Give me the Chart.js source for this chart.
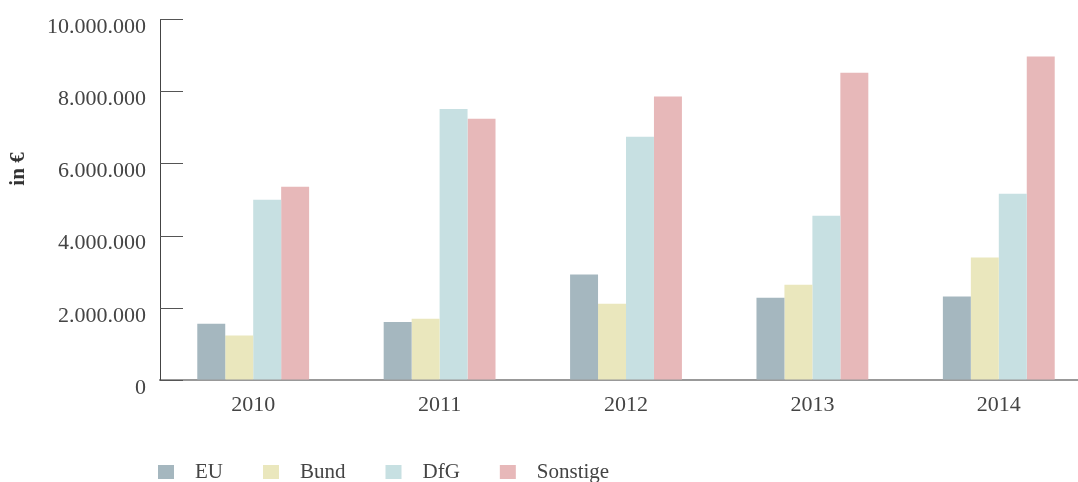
<!DOCTYPE html>
<html>
<head>
<meta charset="utf-8">
<script src="https://cdn.jsdelivr.net/npm/chart.js@4.4.1/dist/chart.umd.min.js"></script>
<style>
    html, body { margin: 0; padding: 0; background: #fff; overflow: hidden; }
    #wrap { position: relative; width: 1092px; height: 482px; }
</style>
</head>
<body>
<div id="wrap"><canvas id="chart"></canvas></div>
<script>
// Data
const years = ['2010', '2011', '2012', '2013', '2014'];
const eu = [1560000, 1610000, 2920000, 2280000, 2310000];
const bund = [1230000, 1700000, 2110000, 2640000, 3390000];
const dfg = [4990000, 7510000, 6740000, 4550000, 5160000];
const sonstige = [5350000, 7240000, 7850000, 8510000, 8960000];
const yTicks = [0, 2000000, 4000000, 6000000, 8000000, 10000000];

// Colors
const colors = {
    eu: '#a5b7bf',
    bund: '#eae7bd',
    dfg: '#c7e0e2',
    sonstige: '#e7b8b9',
    text: '#444',
};

const serif = '"Liberation Serif", "Times New Roman", serif';

// Thousands separator with dots (German style)
const formatNumber = (v) => String(v).replace(/\B(?=(\d{3})+(?!\d))/g, '.');

// Tick stubs inside the plot, rotated axis title and the legend row
const axisExtras = {
    id: 'axisExtras',
    afterDraw(chart) {
        const { ctx, chartArea, scales: { y } } = chart;
        ctx.save();
        ctx.strokeStyle = '#555';
        ctx.lineWidth = 1;
        y.ticks.forEach((t) => {
            const py = Math.round(y.getPixelForValue(t.value)) + 0.5;
            ctx.beginPath();
            ctx.moveTo(chartArea.left, py);
            ctx.lineTo(chartArea.left + 23, py);
            ctx.stroke();
        });
        ctx.restore();

        // y axis title
        ctx.save();
        ctx.translate(19, 169);
        ctx.rotate(-Math.PI / 2);
        ctx.font = 'bold 21px ' + serif;
        ctx.fillStyle = '#333';
        ctx.textAlign = 'center';
        ctx.textBaseline = 'middle';
        ctx.fillText('in €', 0, 0);
        ctx.restore();

        // legend
        ctx.save();
        ctx.font = '21px ' + serif;
        ctx.textBaseline = 'middle';
        ctx.textAlign = 'left';
        let x = 158;
        chart.data.datasets.forEach((ds) => {
            ctx.fillStyle = ds.backgroundColor;
            ctx.fillRect(x, 465, 16, 14);
            ctx.fillStyle = colors.text;
            ctx.fillText(ds.label, x + 37, 472);
            x += 37 + ctx.measureText(ds.label).width + 40;
        });
        ctx.restore();
    },
};

const makeDataset = (label, data, color) => ({
    label,
    data,
    backgroundColor: color,
    borderWidth: 0,
    categoryPercentage: 0.6,
    barPercentage: 1.0,
});

new Chart(document.getElementById('chart'), {
    type: 'bar',
    data: {
        labels: years,
        datasets: [
            makeDataset('EU', eu, colors.eu),
            makeDataset('Bund', bund, colors.bund),
            makeDataset('DfG', dfg, colors.dfg),
            makeDataset('Sonstige', sonstige, colors.sonstige),
        ],
    },
    options: {
        responsive: true,
        maintainAspectRatio: false,
        animation: false,
        layout: {
            padding: { top: 19, right: 0, bottom: 0, left: 0 },
        },
        plugins: {
            legend: { display: false },
            tooltip: { enabled: false },
        },
        scales: {
            x: {
                afterFit: (scale) => { scale.height = 102; },
                grid: { display: false, drawTicks: false },
                border: { display: true, color: '#999', width: 2 },
                ticks: {
                    color: colors.text,
                    font: { family: serif, size: 22 },
                    padding: 12,
                    maxRotation: 0,
                },
            },
            y: {
                min: 0,
                max: 10000000,
                afterFit: (scale) => {
                    scale.width = 160;
                    scale.paddingTop = 0;
                    scale.paddingBottom = 0;
                },
                afterBuildTicks: (scale) => { scale.ticks = yTicks.map((v) => ({ value: v })); },
                grid: { display: true, drawOnChartArea: false, drawTicks: false },
                border: { display: true, color: '#444', width: 1 },
                ticks: {
                    color: colors.text,
                    font: { family: serif, size: 22 },
                    padding: 14,
                    labelOffset: 8,
                    callback: (v) => formatNumber(v),
                },
            },
        },
    },
    plugins: [axisExtras],
});
</script>
</body>
</html>
